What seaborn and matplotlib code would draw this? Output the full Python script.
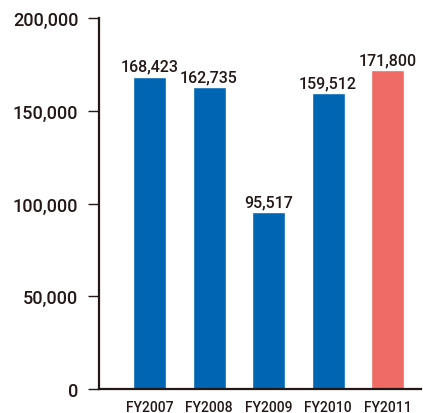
import matplotlib
matplotlib.use("Agg")
import matplotlib.pyplot as plt
import seaborn as sns
import pandas as pd

years = ["FY2007", "FY2008", "FY2009", "FY2010", "FY2011"]
values = [168423, 162735, 95517, 159512, 171800]
bar_colors = ["#0066b3", "#0066b3", "#0066b3", "#0066b3", "#ee6b66"]
y_ticks = [0, 50000, 100000, 150000, 200000]

sns.set_theme(style="white")
plt.rcParams["font.family"] = ["Roboto", "Liberation Sans", "DejaVu Sans"]
plt.rcParams["font.weight"] = "medium"
text_color = "#231815"

df = pd.DataFrame({"year": years, "value": values})

fig = plt.figure(figsize=(4.23, 4.14), dpi=100)
ax = fig.add_axes([0.234, 0.058, 0.761, 0.896])

sns.barplot(data=df, x="year", y="value", hue="year", palette=bar_colors,
            width=0.555, legend=False, ax=ax, saturation=1)

for i, v in enumerate(values):
    ax.text(i, v + 1500, f"{v:,}", ha="center", va="bottom",
            fontsize=11.5, color=text_color, fontweight="medium")

ax.set_xlim(-0.85, 4.56)
ax.set_ylim(0, 200000)
ax.set_yticks(y_ticks)
ax.set_yticklabels([f"{t:,}" for t in y_ticks], fontsize=13, color=text_color,
                   fontweight="medium")
ax.set_xticks(range(len(years)))
ax.set_xticklabels(years, fontsize=10, color=text_color, fontweight="medium")
ax.set_xlabel("")
ax.set_ylabel("")

for side in ["top", "right"]:
    ax.spines[side].set_visible(False)
for side in ["left", "bottom"]:
    ax.spines[side].set_color(text_color)
    ax.spines[side].set_linewidth(1.6)

ax.tick_params(axis="y", left=True, length=8, width=1.0, color=text_color, pad=7)
ax.tick_params(axis="x", bottom=False, length=0, pad=8)

fig.savefig("out.png", dpi=100)
